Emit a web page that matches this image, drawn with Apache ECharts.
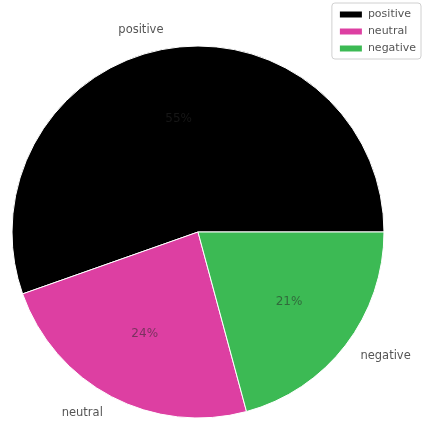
<!DOCTYPE html>
<html><head><meta charset="utf-8">
<script src="https://cdn.jsdelivr.net/npm/echarts@6/dist/echarts.min.js"></script>
<style>html,body{margin:0;padding:0;background:#fff}#c{width:425px;height:422px}</style>
</head><body><div id="c"></div>
<script>
const categories = ['positive', 'neutral', 'negative'];
const values = [55.4, 23.8, 20.8];
const colors = ['#000000', '#dd3fa2', '#3cba54'];

const R = 186;
const center = [198, 232];
const data = categories.map((c, i) => ({ name: c, value: values[i], itemStyle: { color: colors[i] } }));
const ghost = categories.map((c, i) => ({ name: c, value: values[i], itemStyle: { color: 'rgba(0,0,0,0)' } }));

const chart = echarts.init(document.getElementById('c'));
chart.setOption({
  animation: false,
  legend: {
    data: categories,
    orient: 'vertical',
    right: 4, top: 3,
    itemWidth: 24, itemHeight: 8, itemGap: 6,
    padding: [6, 5, 5, 6],
    borderColor: '#d0d0d0', borderWidth: 1, borderRadius: 3,
    icon: 'rect',
    textStyle: { fontFamily: 'DejaVu Sans', fontSize: 11, color: '#555' }
  },
  series: [
    {
      type: 'pie', center: center, radius: R, startAngle: 0, clockwise: false,
      avoidLabelOverlap: false, silent: true,
      itemStyle: { borderColor: '#fff', borderWidth: 1 },
      label: { show: false }, labelLine: { show: false },
      data: data
    },
    {
      type: 'pie', center: center, radius: R * 1.2, startAngle: 0, clockwise: false,
      avoidLabelOverlap: false, silent: true, legendHoverLink: false, percentPrecision: 0,
      label: { show: true, position: 'inside', formatter: '{d}%', fontFamily: 'DejaVu Sans', fontSize: 12, color: 'rgba(40,40,40,0.55)' },
      labelLine: { show: false },
      data: ghost
    },
    {
      type: 'pie', center: center, radius: R * 1.1, startAngle: 0, clockwise: false,
      avoidLabelOverlap: false, silent: true, legendHoverLink: false,
      label: { show: true, position: 'outside', formatter: '{b}', distanceToLabelLine: 0, fontFamily: 'DejaVu Sans', fontSize: 11.5, color: '#555' },
      labelLine: { show: false, length: 0, length2: 0 },
      data: ghost
    }
  ]
});
</script></body></html>
